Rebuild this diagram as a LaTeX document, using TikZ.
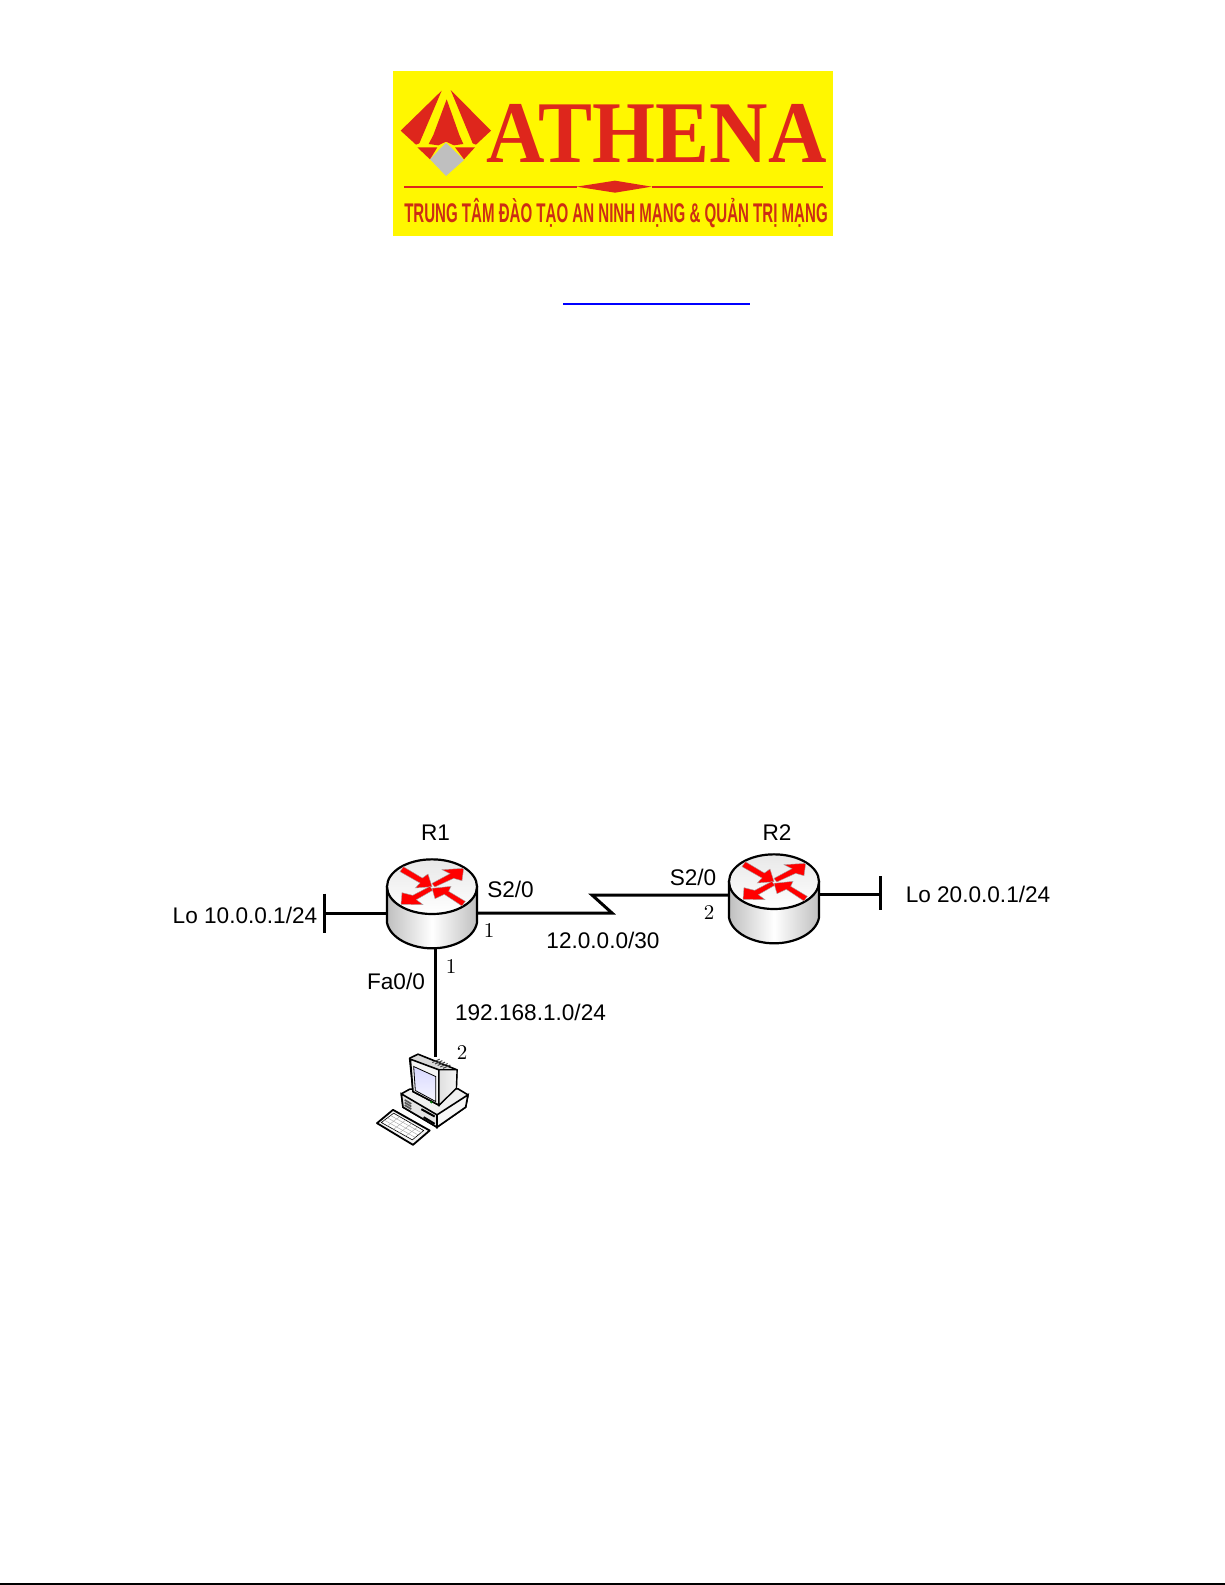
\documentclass[tikz,border=0pt]{standalone}
\usepackage{fontspec}
\setsansfont{Liberation Sans}
\newfontfamily\logofont{Liberation Serif}
\definecolor{athred}{RGB}{222,38,28}
\definecolor{athyellow}{RGB}{255,247,0}
\definecolor{tagred}{RGB}{205,45,20}
\tikzset{
    lbl/.style={font=\sffamily\fontsize{11.3}{13}\selectfont, inner sep=0pt},
    num/.style={font=\rmfamily\fontsize{10.5}{12}\selectfont, inner sep=0pt},
    netline/.style={line width=1.5pt, black},
    devbox/.style={minimum width=45pt, minimum height=44.5pt, inner sep=0pt},
    redarrow/.style={fill=red, draw=gray!70, line width=0.2pt},
    pics/router/.style={code={
        \begin{scope}[scale=1/3, shift={(-276,-280.5)}]
            \draw[line width=1.1pt, left color=gray!50, right color=gray!50, middle color=white]
                (141,230) -- (141,338) .. controls (150,385) and (215,415) .. (276,415)
                .. controls (340,415) and (402,385) .. (411,338) -- (411,230) -- cycle;
            \draw[line width=1.1pt, top color=gray!18, bottom color=white]
                (276,230) ellipse [x radius=135, y radius=82];
            \fill[redarrow] (190,170)--(247,204)--(264,192)--(276,230)--(226,234)--(240,219)--(180,185)--cycle;
            \fill[redarrow] (276,220)--(330,191)--(306,179)--(371,175)--(366,212)--(341,205)--(284,231)--cycle;
            \fill[redarrow] (270,229)--(218,256)--(186,248)--(183,283)--(249,284)--(229,269)--(278,241)--cycle;
            \fill[redarrow] (376,274)--(326,244)--(333,229)--(276,235)--(285,266)--(313,253)--(366,288)--cycle;
        \end{scope}
    }},
    pics/computer/.style={code={
        \begin{scope}[scale=1/3, shift={(-218.5,-239)}]
            % base unit
            \draw[line width=0.8pt, fill=gray!12, line join=round] (155,222)--(180,208)--(325,207)--(355,225)--(348,262)--(262,322)--(160,262)--cycle;
            \draw[line width=0.8pt, fill=gray!22] (155,222)--(262,285)--(262,322)--(160,262)--cycle;
            \draw[line width=0.8pt, fill=gray!6] (262,285)--(355,225)--(348,262)--(262,322)--cycle;
            \draw[line width=0.8pt, gray!70!black] (165,240)--(185,252) (165,248)--(185,260) (165,256)--(185,268);
            \draw[line width=1pt] (222,292)--(255,312) (215,268)--(255,290);
            % monitor
            \draw[line width=0.8pt, fill=gray!30, line join=round] (180,115)--(205,103)--(322,150)--(320,205)--(268,256)--(190,215)--cycle;
            \draw[line width=0.8pt, fill=gray!8] (182,118)--(268,150)--(268,256)--(190,215)--cycle;
            \draw[line width=0.4pt, top color=blue!15, bottom color=blue!4] (192,140)--(258,170)--(258,245)--(197,212)--cycle;
            \draw[line width=0.6pt, left color=gray!25, right color=gray!8] (268,150)--(322,150)--(320,205)--(268,256)--cycle;
            \foreach \v in {0,8,16,24,32} \draw[line width=0.5pt, black!75] ({248+\v},{128+0.55*\v})--({270+\v},{118+0.55*\v});
            \fill[green!50!black] (245,247) circle (4);
            % keyboard
            \draw[line width=0.9pt, fill=gray!8, line join=round] (82,310)--(130,270)--(240,332)--(190,375)--cycle;
            \draw[line width=0.3pt, fill=white] (95,308)--(132,280)--(222,332)--(188,360)--cycle;
            \foreach \v in {1,2,3,4} \draw[line width=0.2pt, gray!70] ({95+18*\v},{308+10.4*\v})--({132+18*\v},{280+10.4*\v});
            \foreach \v in {1,2,3} \draw[line width=0.2pt, gray!70] ({95+9.25*\v},{308-7*\v})--({188+9.25*\v},{360-7*\v});
        \end{scope}
    }}
}
\begin{document}
\begin{tikzpicture}[x=0.5pt, y=-0.5pt]
    \useasboundingbox (0,0) rectangle (1225,1585);
    \fill[white] (0,0) rectangle (1225,1585);
    % logo
    \fill[athyellow] (393,71) rectangle (833,236);
    \begin{scope}[shift={(380,60)}, scale=1/3]
        \fill[athred] (185,92)--(62,212)--(108,254)--(118,250)--cycle;
        \fill[athred] (212,90)--(333,212)--(288,254)--(278,250)--cycle;
        \fill[athred] (200,118)--(238,225)--(250,252)--(222,256)--(198,245)--(175,256)--(146,252)--(160,225)--cycle;
        \fill[athred] (112,262)--(172,262)--(150,298)--cycle;
        \fill[athred] (285,262)--(225,262)--(252,298)--cycle;
        \fill[gray!50] (198,248)--(252,300)--(198,348)--(150,298)--cycle;
        \draw[line width=1pt, athred] (72,380)--(590,380) (815,380)--(1330,380);
        \fill[athred] (590,380)--(705,362)--(815,380)--(705,398)--cycle;
    \end{scope}
    \node[inner sep=0pt, transform shape, xscale=0.92, text=athred, font=\logofont\bfseries\fontsize{44}{44}\selectfont, anchor=base] (athena) at (656.5,162) {ATHENA};
    \node[inner sep=0pt, transform shape, xscale=0.558, text=tagred, font=\sffamily\bfseries\fontsize{13.5}{13.5}\selectfont, anchor=base] (tagline) at (616,222) {TRUNG TÂM ĐÀO TẠO AN NINH MẠNG \& QUẢN TRỊ MẠNG};
    \draw[blue, line width=1.25pt] (563,304) -- (750,304);
    % devices
    \node[devbox] (R1) at (432,903.5) {};
    \node[devbox] (R2) at (774,898.5) {};
    \node[devbox] (PC) at (422.5,1099.5) {};
    \coordinate (lo1) at (324,913); \coordinate (lo2) at (880,894.5);
    \coordinate (bolt1) at (612,913); \coordinate (bolt2) at (592,895);
    \coordinate (pctop) at (435,1057);
    \draw[netline] (R1.west |- lo1) -- (lo1);
    \draw[netline] (lo1) ++(0,-19.5) -- ++(0,39);
    \draw[netline] (R2.east |- lo2) -- (lo2);
    \draw[netline] (lo2) ++(0,-18.5) -- ++(0,34);
    \draw[netline] (R1.east |- bolt1) -- (bolt1) -- (bolt2) -- (R2.west |- bolt2);
    \draw[netline] (R1.south -| pctop) -- (pctop);
    \pic at (R1) {router};
    \pic at (R2) {router};
    \pic at (PC) {computer};
    % labels
    \node[lbl] (nameR1) at (435.5,833) {R1};
    \node[lbl] (nameR2) at (777,833) {R2};
    \node[lbl] (lo1txt) at (245,915) {Lo 10.0.0.1/24};
    \node[lbl] (lo2txt) at (978,894) {Lo 20.0.0.1/24};
    \node[lbl] (s1) at (510.5,889) {S2/0};
    \node[lbl] (s2) at (693,877) {S2/0};
    \node[lbl] (fa) at (396,981) {Fa0/0};
    \node[lbl] (wan) at (603,940) {12.0.0.0/30};
    \node[lbl] (lan) at (530.5,1012) {192.168.1.0/24};
    \node[num] (n1) at (489,930) {1};
    \node[num] (n2) at (709,912) {2};
    \node[num] (n3) at (451,966) {1};
    \node[num] (n4) at (462,1052) {2};
    % page rule
    \draw[black, line width=0.9pt] (0,1584) -- (1225,1584);
\end{tikzpicture}
\end{document}
